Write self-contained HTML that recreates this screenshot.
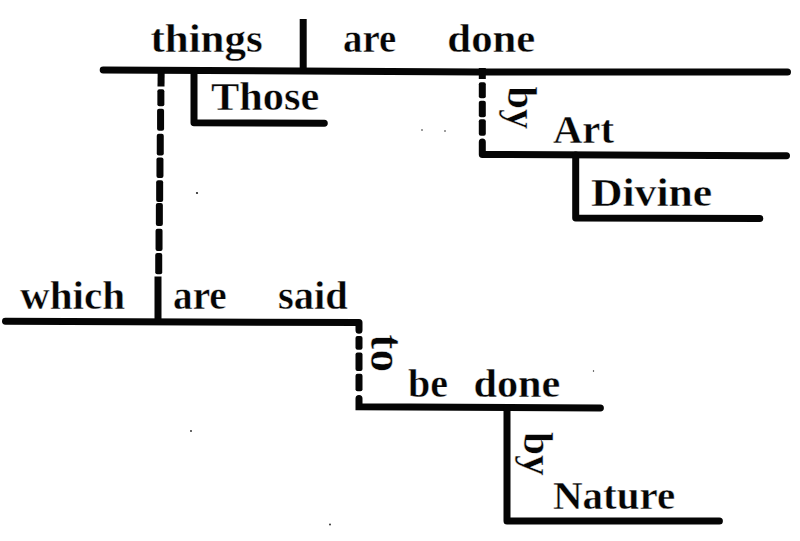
<!DOCTYPE html>
<html><head><meta charset="utf-8">
<style>
html,body{margin:0;padding:0;background:#fff;width:800px;height:541px;overflow:hidden}
svg{position:absolute;left:0;top:0}
text{font-family:"Liberation Serif",serif;font-weight:bold;font-size:40px;fill:#050505;stroke:#fff;stroke-width:0.4px;paint-order:fill}
</style></head><body>
<svg width="800" height="541" viewBox="0 0 800 541">
<g stroke="#050505" stroke-width="7" fill="none" stroke-linecap="round" stroke-linejoin="round">
<polyline points="103.2,70.1 300,71 480,72 787.5,72"/>
<line x1="303.2" y1="19" x2="303.2" y2="71" stroke-linecap="butt"/>
<polyline points="194,71 194,122.8 324.3,123.2"/>
<polyline points="482.3,142 482.3,154.5 786.5,155.8"/>
<polyline points="575.7,155 575.7,218 759.8,218.6"/>
<line x1="158" y1="276.5" x2="158" y2="321" stroke-linecap="butt"/>
<polyline points="5.5,321.3 359,322.5 359,330.3"/>
<polyline points="359,398.5 359,406.7 600.4,408" stroke-linejoin="miter"/>
<polyline points="507,408 507,521 719.4,521"/>
</g>
<g fill="#050505">
<path d="M157.7,68 L164.7,68 L164.5,86.5 L157.5,86.5 Z"/>
<rect x="478.8" y="68" width="7" height="11"/>
</g>
<g fill="#050505">
<rect x="157.36" y="89.20" width="7" height="17.10" rx="2"/>
<rect x="157.08" y="108.70" width="7" height="22.10" rx="2"/>
<rect x="156.76" y="133.70" width="7" height="21.80" rx="2"/>
<rect x="156.46" y="157.50" width="7" height="20.60" rx="2"/>
<rect x="156.16" y="180.20" width="7" height="21.70" rx="2"/>
<rect x="155.86" y="203.00" width="7" height="23.10" rx="2"/>
<rect x="155.54" y="228.70" width="7" height="22.30" rx="2"/>
<rect x="155.23" y="252.90" width="7" height="21.40" rx="2"/>
<rect x="478.80" y="82.20" width="7" height="16.10" rx="2"/>
<rect x="478.80" y="100.70" width="7" height="16.60" rx="2"/>
<rect x="478.80" y="119.20" width="7" height="16.60" rx="2"/>
<rect x="355.50" y="336.00" width="7" height="13.70" rx="2"/>
<rect x="355.50" y="352.50" width="7" height="18.40" rx="2"/>
<rect x="355.50" y="373.70" width="7" height="17.60" rx="2"/>
</g>
<g fill="#222" id="specks"><circle cx="197" cy="193" r="1.1"/><circle cx="191" cy="431" r="0.9"/><circle cx="330" cy="524.5" r="0.9"/><circle cx="593.5" cy="371" r="0.7"/><circle cx="422" cy="130" r="0.8"/><circle cx="445" cy="131" r="0.8"/></g>

<text transform="translate(150.42,52) scale(1.0757,1)">things</text>
<text transform="translate(343.03,52) scale(0.9717,1)">are</text>
<text transform="translate(447.36,52) scale(1.0696,1)">done</text>
<text transform="translate(210.94,110) scale(1.0600,1)">Those</text>
<text transform="translate(553.00,143) scale(1.0167,1)">Art</text>
<text transform="translate(590.91,206) scale(1.0917,1)">Divine</text>
<text transform="translate(20.00,309) scale(1.0294,1)">which</text>
<text transform="translate(173.02,309) scale(0.9811,1)">are</text>
<text transform="translate(277.99,309) scale(1.0147,1)">said</text>
<text transform="translate(408.00,397) scale(1.0000,1)">be</text>
<text transform="translate(473.39,397) scale(1.0570,1)">done</text>
<text transform="translate(552.97,509) scale(1.0256,1)">Nature</text>
<text transform="translate(508,86.50) rotate(90) scale(1.0119,1.04)">by</text>
<text transform="translate(371,334.37) rotate(90) scale(1.1290,1.15)">to</text>
<text transform="translate(524.4,432.00) rotate(90) scale(1.0333,1.05)">by</text>
</svg>
</body></html>
